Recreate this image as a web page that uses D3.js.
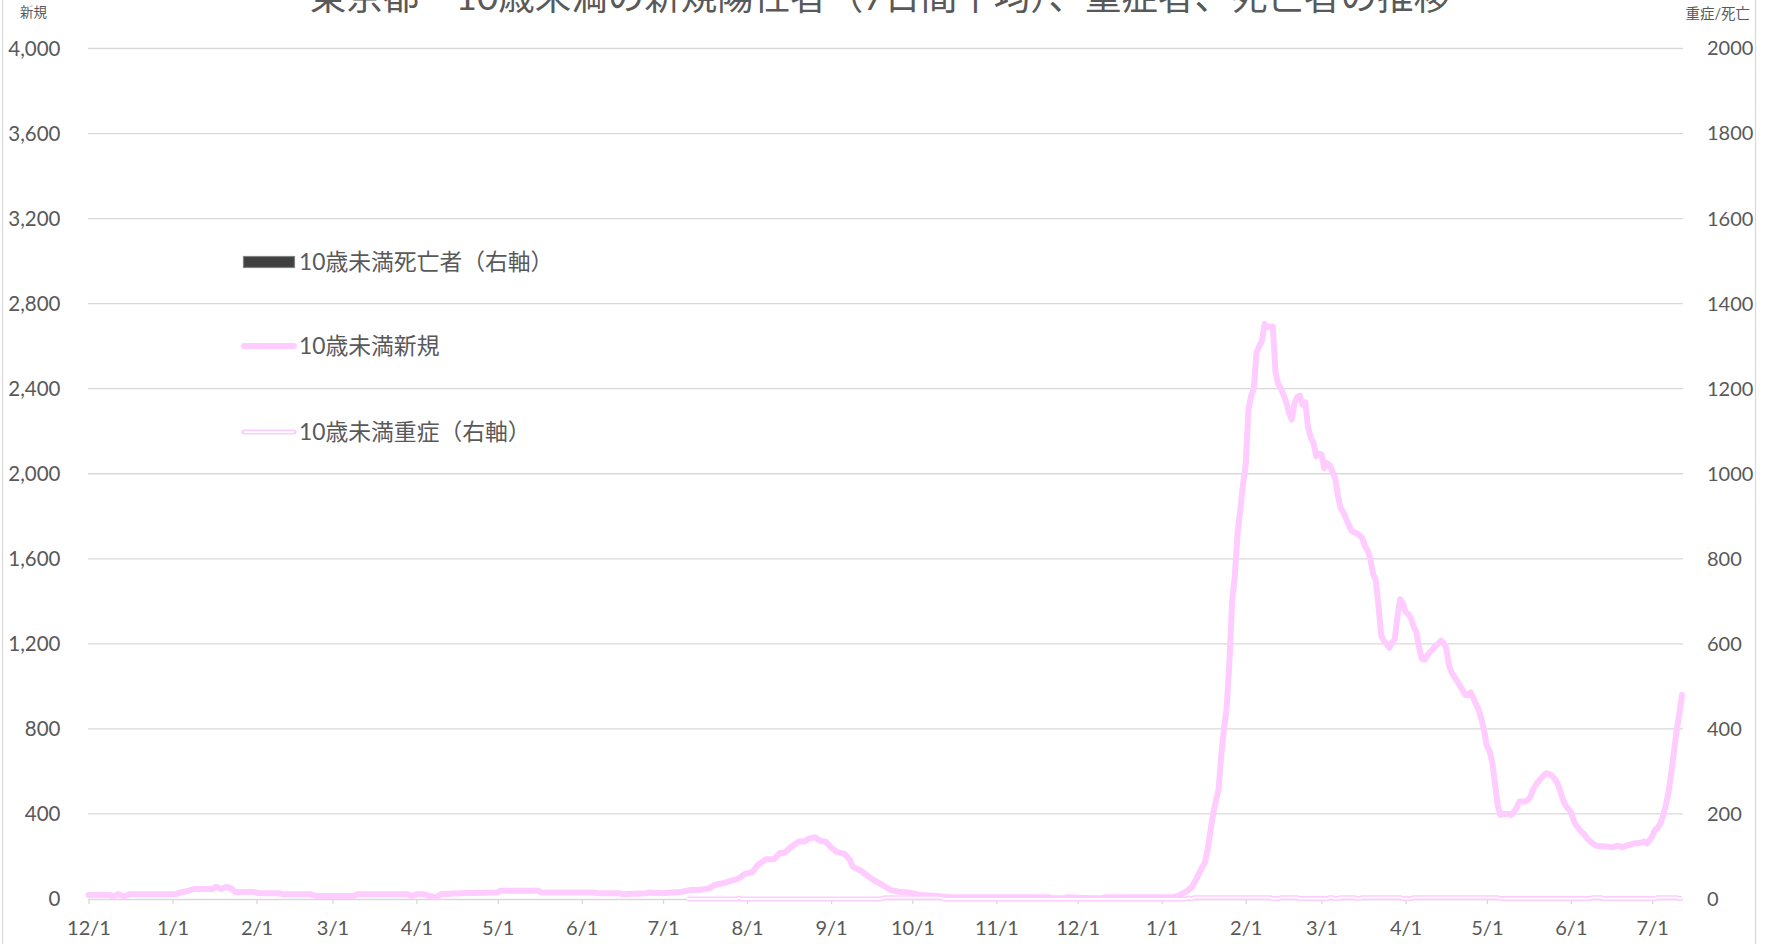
<!DOCTYPE html>
<html><head><meta charset="utf-8">
<script src="https://cdn.jsdelivr.net/npm/d3@7"></script>
<style>
body{margin:0;background:#fff}
svg{display:block}
text{font-family:"Lato","Noto Sans CJK JP",sans-serif;fill:#595959}
</style>
</head><body>
<svg id="c" width="1769" height="944"></svg>
<script>
const titleText = "東京都　10歳未満の新規陽性者（7日間平均）、重症者、死亡者の推移";
const leftAxisTitle = "新規";
const rightAxisTitle = "重症/死亡";
const leftTicks = [0,400,800,1200,1600,2000,2400,2800,3200,3600,4000];
const rightTicks = [0,200,400,600,800,1000,1200,1400,1600,1800,2000];
const seriesNames = ["10歳未満死亡者（右軸）","10歳未満新規","10歳未満重症（右軸）"];
const dateRange = ["2020-12-01","2022-07-12"];

// 10歳未満新規 (7-day average, left axis)
const newCases = [
["2020-12-01",19],["2020-12-09",19],["2020-12-10",11],["2020-12-12",22],["2020-12-14",12],["2020-12-16",22],
["2021-01-02",22],["2021-01-04",31],["2021-01-07",39],["2021-01-09",47],["2021-01-16",47],["2021-01-17",58],
["2021-01-19",47],["2021-01-21",58],["2021-01-23",47],["2021-01-24",33],["2021-01-31",33],["2021-02-02",27],
["2021-02-09",27],["2021-02-11",22],["2021-02-21",22],["2021-02-23",14],["2021-03-09",14],["2021-03-10",22],
["2021-03-29",22],["2021-03-30",14],["2021-04-01",22],["2021-04-04",22],["2021-04-06",14],["2021-04-08",8],
["2021-04-10",22],["2021-04-17",27],["2021-05-01",31],["2021-05-02",39],["2021-05-16",39],["2021-05-17",31],
["2021-06-05",31],["2021-06-07",27],["2021-06-15",27],["2021-06-16",22],["2021-06-25",27],["2021-06-26",31],
["2021-07-01",27],["2021-07-08",34],["2021-07-11",42],["2021-07-14",42],["2021-07-18",50],["2021-07-20",66],
["2021-07-24",77],["2021-07-27",89],["2021-07-29",97],["2021-07-31",117],["2021-08-03",128],["2021-08-05",160],
["2021-08-08",187],["2021-08-11",187],["2021-08-13",215],["2021-08-15",218],["2021-08-17",243],["2021-08-20",270],
["2021-08-22",270],["2021-08-24",285],["2021-08-26",290],["2021-08-28",274],["2021-08-30",270],["2021-09-01",243],
["2021-09-03",222],["2021-09-06",212],["2021-09-08",183],["2021-09-09",152],["2021-09-12",133],["2021-09-14",113],
["2021-09-17",86],["2021-09-20",66],["2021-09-23",42],["2021-09-26",34],["2021-09-30",30],["2021-10-04",19],
["2021-10-10",14],["2021-10-15",8],["2021-10-20",8],["2021-11-20",8],["2021-11-22",4],["2021-11-26",4],
["2021-11-27",8],["2021-12-06",4],["2021-12-10",4],["2021-12-11",8],["2022-01-05",8],["2022-01-07",15],
["2022-01-08",22],["2022-01-10",35],["2022-01-11",43],["2022-01-12",55],["2022-01-13",75],["2022-01-14",100],
["2022-01-15",125],["2022-01-16",150],["2022-01-17",172],["2022-01-18",235],["2022-01-19",320],["2022-01-20",400],
["2022-01-21",460],["2022-01-22",515],["2022-01-23",680],["2022-01-24",800],["2022-01-25",900],["2022-01-26",1120],
["2022-01-27",1400],["2022-01-28",1520],["2022-01-29",1720],["2022-01-30",1830],["2022-01-31",1950],["2022-02-01",2040],
["2022-02-02",2300],["2022-02-03",2365],["2022-02-04",2400],["2022-02-05",2570],["2022-02-06",2600],["2022-02-07",2625],
["2022-02-08",2705],["2022-02-09",2690],["2022-02-10",2692],["2022-02-11",2692],["2022-02-12",2480],["2022-02-13",2420],
["2022-02-14",2400],["2022-02-15",2370],["2022-02-16",2335],["2022-02-17",2285],["2022-02-18",2255],["2022-02-19",2330],
["2022-02-20",2360],["2022-02-21",2367],["2022-02-22",2325],["2022-02-23",2336],["2022-02-24",2220],["2022-02-25",2170],
["2022-02-26",2145],["2022-02-27",2083],["2022-02-28",2095],["2022-03-01",2090],["2022-03-02",2025],["2022-03-03",2050],
["2022-03-04",2040],["2022-03-05",2010],["2022-03-06",1980],["2022-03-07",1900],["2022-03-08",1840],["2022-03-09",1820],
["2022-03-10",1790],["2022-03-11",1760],["2022-03-12",1732],["2022-03-13",1725],["2022-03-14",1720],["2022-03-15",1710],
["2022-03-16",1698],["2022-03-17",1660],["2022-03-18",1640],["2022-03-19",1600],["2022-03-20",1530],["2022-03-21",1500],
["2022-03-22",1380],["2022-03-23",1240],["2022-03-24",1215],["2022-03-25",1200],["2022-03-26",1182],["2022-03-27",1205],
["2022-03-28",1220],["2022-03-29",1330],["2022-03-30",1410],["2022-03-31",1390],["2022-04-01",1350],["2022-04-02",1340],
["2022-04-03",1320],["2022-04-04",1280],["2022-04-05",1255],["2022-04-06",1180],["2022-04-07",1130],["2022-04-08",1125],
["2022-04-09",1145],["2022-04-10",1160],["2022-04-11",1175],["2022-04-12",1190],["2022-04-13",1200],["2022-04-14",1215],
["2022-04-15",1205],["2022-04-16",1180],["2022-04-17",1100],["2022-04-18",1065],["2022-04-19",1045],["2022-04-20",1025],
["2022-04-21",1005],["2022-04-22",985],["2022-04-23",960],["2022-04-24",958],["2022-04-25",972],["2022-04-26",945],
["2022-04-27",915],["2022-04-28",890],["2022-04-29",845],["2022-04-30",790],["2022-05-01",720],["2022-05-02",695],
["2022-05-03",640],["2022-05-04",545],["2022-05-05",440],["2022-05-06",395],["2022-05-07",400],["2022-05-08",400],
["2022-05-09",400],["2022-05-10",395],["2022-05-11",410],["2022-05-12",430],["2022-05-13",458],["2022-05-14",458],
["2022-05-15",458],["2022-05-16",465],["2022-05-17",478],["2022-05-18",515],["2022-05-19",535],["2022-05-20",552],
["2022-05-21",568],["2022-05-22",582],["2022-05-23",591],["2022-05-24",587],["2022-05-25",580],["2022-05-26",565],
["2022-05-27",545],["2022-05-28",510],["2022-05-29",470],["2022-05-30",440],["2022-05-31",425],["2022-06-01",410],
["2022-06-02",370],["2022-06-03",345],["2022-06-04",330],["2022-06-05",315],["2022-06-06",303],["2022-06-07",285],
["2022-06-08",272],["2022-06-09",262],["2022-06-10",253],["2022-06-11",249],["2022-06-12",248],["2022-06-13",248],
["2022-06-14",247],["2022-06-15",246],["2022-06-16",243],["2022-06-17",246],["2022-06-18",250],["2022-06-19",248],
["2022-06-20",243],["2022-06-21",248],["2022-06-22",253],["2022-06-23",257],["2022-06-24",260],["2022-06-25",262],
["2022-06-26",262],["2022-06-27",265],["2022-06-28",270],["2022-06-29",262],["2022-06-30",275],["2022-07-01",295],
["2022-07-02",325],["2022-07-03",335],["2022-07-04",355],["2022-07-05",390],["2022-07-06",440],["2022-07-07",500],
["2022-07-08",590],["2022-07-09",690],["2022-07-10",790],["2022-07-11",870],["2022-07-12",960]
];

// 10歳未満重症 (right axis)
const severe = [
["2021-07-10",0],["2021-07-28",0],["2021-07-29",2],["2021-07-30",0],["2021-09-19",0],["2021-09-21",3],
["2021-10-11",3],["2021-10-13",0],["2022-01-10",0],["2022-01-11",2],["2022-01-12",0],["2022-01-13",3],
["2022-02-10",3],["2022-02-11",1],["2022-02-13",1],["2022-02-14",3],["2022-02-20",3],["2022-02-21",1],
["2022-03-03",1],["2022-03-04",3],["2022-03-05",3],["2022-03-06",1],["2022-03-07",1],["2022-03-08",3],
["2022-03-13",3],["2022-03-14",1],["2022-03-15",1],["2022-03-16",3],["2022-03-30",3],["2022-03-31",1],
["2022-04-03",1],["2022-04-04",3],["2022-05-05",3],["2022-05-06",1],["2022-06-08",1],["2022-06-09",3],
["2022-06-12",3],["2022-06-13",1],["2022-07-02",1],["2022-07-03",3],["2022-07-10",3],["2022-07-11",1],
["2022-07-12",1]
];

// 10歳未満死亡者 (right axis)
const deaths = [["2022-03-20",3]];

const parse = d3.utcParse("%Y-%m-%d");
const svg = d3.select("#c");
const W = 1769, H = 944;
const plotL = 88.5, plotR = 1682, plotT = 48.5, plotB = 899;
const FONT = '"Lato","Noto Sans CJK JP",sans-serif';

const x = d3.scaleUtc().domain(dateRange.map(parse)).range([plotL, plotR]);
const yL = d3.scaleLinear().domain([0, 4000]).range([plotB, plotT]);
const yR = d3.scaleLinear().domain([0, 2000]).range([plotB, plotT]);

// outer chart border
svg.append("line").attr("x1",2.5).attr("x2",2.5).attr("y1",0).attr("y2",H).attr("stroke","#d9d9d9").attr("stroke-width",1.2);
svg.append("line").attr("x1",1755.5).attr("x2",1755.5).attr("y1",0).attr("y2",H).attr("stroke","#d9d9d9").attr("stroke-width",1.2);

// gridlines
svg.append("g").selectAll("line").data(leftTicks.filter(d=>d>0)).join("line")
  .attr("x1", 88).attr("x2", 1683)
  .attr("y1", d=>yL(d)).attr("y2", d=>yL(d))
  .attr("stroke","#d9d9d9").attr("stroke-width",1.3);

// left axis
const gL = svg.append("g").attr("transform",`translate(${plotL},0)`)
  .call(d3.axisLeft(yL).tickValues(leftTicks).tickFormat(d3.format(",")).tickSize(0).tickPadding(28));
gL.select(".domain").remove();
gL.selectAll("text").attr("font-size",20.5).attr("fill","#595959").style("font-family",FONT);

// right axis
const gR = svg.append("g").attr("transform",`translate(${plotR},0)`)
  .call(d3.axisRight(yR).tickValues(rightTicks).tickFormat(d3.format("d")).tickSize(0).tickPadding(25));
gR.select(".domain").remove();
gR.selectAll("text").attr("font-size",20).attr("fill","#595959").style("font-family",FONT);

// x axis
const months = d3.utcMonth.range(parse("2020-12-01"), parse("2022-07-12"));
const gX = svg.append("g").attr("transform",`translate(0,${plotB})`)
  .call(d3.axisBottom(x).tickValues(months).tickFormat(d3.utcFormat("%-m/%-d")).tickSize(5).tickSizeOuter(0).tickPadding(17));
gX.select(".domain").attr("d",`M88,0.5H1683`).attr("stroke","#d9d9d9").attr("stroke-width",1.3);
gX.selectAll(".tick line").attr("stroke","#d9d9d9").attr("stroke-width",1.3);
gX.selectAll("text").attr("font-size",20).attr("fill","#595959").style("font-family",FONT);

// deaths bars
const barW = (x(parse("2020-12-02")) - x(parse("2020-12-01"))) * 1.1;
svg.append("g").selectAll("rect").data(deaths).join("rect")
  .attr("x", d=>x(parse(d[0])) - barW/2)
  .attr("width", barW)
  .attr("y", d=>yR(d[1]))
  .attr("height", d=>yR(0)-yR(d[1]))
  .attr("fill","#404040");

// new cases line
const lineL = d3.line().x(d=>x(parse(d[0]))).y(d=>yL(d[1]));
svg.append("path").datum(newCases).attr("d", lineL)
  .attr("fill","none").attr("stroke","#ffccff").attr("stroke-width",6)
  .attr("stroke-linejoin","round").attr("stroke-linecap","round");

// severe (hollow line)
const lineR = d3.line().x(d=>x(parse(d[0]))).y(d=>yR(d[1]));
svg.append("path").datum(severe).attr("d", lineR)
  .attr("fill","none").attr("stroke","#ffccff").attr("stroke-width",5)
  .attr("stroke-linejoin","round");
svg.append("path").datum(severe).attr("d", lineR)
  .attr("fill","none").attr("stroke","#ffffff").attr("stroke-width",1.8)
  .attr("stroke-linejoin","round");

// title
svg.append("text").attr("x", 880).attr("y", 10).attr("text-anchor","middle")
  .attr("font-size",36.5).attr("fill","#595959").text(titleText);

// axis titles
svg.append("text").attr("x", 20).attr("y", 17).attr("font-size",13.5).text(leftAxisTitle);
svg.append("text").attr("x", 1750).attr("y", 19).attr("text-anchor","end").attr("font-size",14.5).text(rightAxisTitle);

// legend
const legY = [262, 346, 432];
const leg = svg.append("g");
leg.append("rect").attr("x",243.5).attr("y",legY[0]-5.5).attr("width",51).attr("height",11)
  .attr("fill","#404040").attr("stroke","#808080").attr("stroke-width",1.2);
leg.append("line").attr("x1",244).attr("x2",294).attr("y1",legY[1]).attr("y2",legY[1])
  .attr("stroke","#ffccff").attr("stroke-width",6).attr("stroke-linecap","round");
leg.append("line").attr("x1",244).attr("x2",294).attr("y1",legY[2]).attr("y2",legY[2])
  .attr("stroke","#ffccff").attr("stroke-width",5).attr("stroke-linecap","round");
leg.append("line").attr("x1",244).attr("x2",294).attr("y1",legY[2]).attr("y2",legY[2])
  .attr("stroke","#ffffff").attr("stroke-width",1.8);
leg.selectAll("text").data(seriesNames).join("text")
  .attr("x",299).attr("y",(d,i)=>legY[i]).attr("dy","0.35em")
  .attr("font-size",22.8).text(d=>d);
</script>
</body></html>
